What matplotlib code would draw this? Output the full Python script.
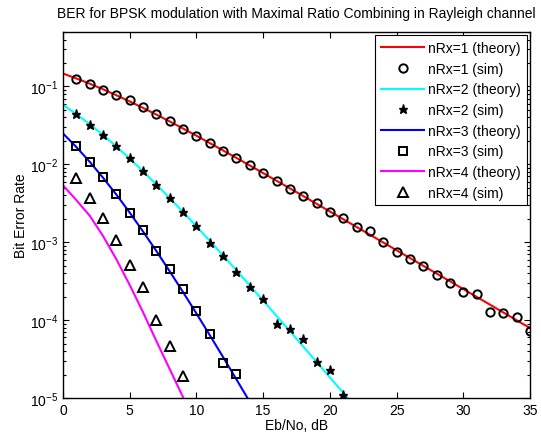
import numpy as np
import matplotlib
matplotlib.use("Agg")
import matplotlib.pyplot as plt

plt.rcParams['font.family'] = ['Liberation Sans', 'DejaVu Sans']
plt.rcParams['mathtext.default'] = 'regular'

# Eb/No axis (dB)
ebno_theory1 = np.arange(0, 36)
ebno_theory2 = np.arange(0, 23)
ebno_theory3 = np.arange(0, 15)
ebno_theory4 = np.arange(0, 11)

# theory curves
ber_theory1 = [0.1464, 0.1267, 0.1085, 0.0919, 0.0771, 0.0642, 0.0530, 0.0435,
               0.0355, 0.0288, 0.0233, 0.01875, 0.01506, 0.01208, 0.00967, 0.00772,
               0.00616, 0.00492, 0.00392, 0.00312, 0.00248, 0.001974, 0.00157,
               0.001248, 0.000992, 0.000789, 0.000627, 0.000498, 0.000396,
               0.000315, 0.000250, 0.000199, 0.000158, 0.0001253, 0.0000995,
               0.0000791]
ber_theory2 = [0.0581, 0.0441, 0.0328, 0.0238, 0.0169, 0.01183, 0.00813, 0.00551,
               0.00368, 0.00244, 0.00160, 0.00104, 0.000674, 0.000434, 0.000278,
               0.000178, 0.0001135, 0.0000722, 0.0000459, 0.0000291, 0.0000184,
               0.0000117, 0.0000074]
ber_theory3 = [0.0249, 0.01668, 0.01078, 0.00673, 0.00408, 0.00240, 0.00137,
               0.000769, 0.000422, 0.000228, 0.0001216, 0.0000641, 0.0000334,
               0.0000173, 0.0000089]
ber_theory4 = [5.37e-3, 3.47e-3, 2.19e-3, 1.20e-3, 6.03e-4, 2.82e-4, 1.26e-4,
               5.37e-5, 2.34e-5, 1.02e-5, 4.47e-6]

# simulated points
ebno_sim1 = np.arange(1, 36)
ber_sim1 = [0.126, 0.108, 0.0912, 0.0767, 0.0661, 0.0543, 0.0437, 0.0355, 0.0288,
            0.0229, 0.0188, 0.0148, 0.0120, 0.00989, 0.00776, 0.00617, 0.00484,
            0.00398, 0.00316, 0.00248, 0.00204, 0.00158, 0.00138, 0.00102,
            0.000741, 0.000610, 0.000501, 0.000380, 0.000299, 0.000229,
            0.000216, 0.000129, 0.000124, 0.000110, 0.0000733]
ebno_sim2 = np.arange(1, 22)
ber_sim2 = [4.45e-2, 3.22e-2, 2.38e-2, 1.74e-2, 1.19e-2, 8.3e-3, 5.42e-3, 3.75e-3,
            2.43e-3, 1.63e-3, 9.9e-4, 6.6e-4, 4.1e-4, 2.68e-4, 1.84e-4, 8.8e-5,
            7.6e-5, 5.7e-5, 2.9e-5, 2.32e-5, 1.08e-5]
ebno_sim3 = np.arange(1, 14)
ber_sim3 = [1.7e-2, 1.07e-2, 6.85e-3, 4.2e-3, 2.35e-3, 1.43e-3, 7.7e-4, 4.55e-4,
            2.52e-4, 1.3e-4, 6.6e-5, 2.8e-5, 2.05e-5]
ebno_sim4 = np.arange(1, 10)
ber_sim4 = [6.75e-3, 3.72e-3, 2.02e-3, 1.06e-3, 5.15e-4, 2.66e-4, 9.9e-5, 4.6e-5,
            1.93e-5]

fig = plt.figure(figsize=(5.41, 4.39), dpi=100)
ax = fig.add_axes([0.1165, 0.0911, 0.8632, 0.8337])

lw = 1.5
ax.semilogy(ebno_theory1, ber_theory1, color='#ff0000', lw=lw, label='nRx=1 (theory)')
ax.semilogy(ebno_sim1, ber_sim1, 'o', mfc='none', mec='k', ms=6, mew=1.4, label='nRx=1 (sim)')
ax.semilogy(ebno_theory2, ber_theory2, color='#00ffff', lw=lw, label='nRx=2 (theory)')
ax.semilogy(ebno_sim2, ber_sim2, '*', color='k', ms=6.5, mew=1.0, label='nRx=2 (sim)')
ax.semilogy(ebno_theory3, ber_theory3, color='#0000ff', lw=lw, label='nRx=3 (theory)')
ax.semilogy(ebno_sim3, ber_sim3, 's', mfc='none', mec='k', ms=6, mew=1.4, label='nRx=3 (sim)')
ax.semilogy(ebno_theory4, ber_theory4, color='#ff00ff', lw=lw, label='nRx=4 (theory)')
ax.semilogy(ebno_sim4, ber_sim4, '^', mfc='none', mec='k', ms=7, mew=1.4, label='nRx=4 (sim)')

ax.set_xlim(0, 35)
ax.set_ylim(1e-5, 0.5)
ax.set_xticks(range(0, 36, 5))
ax.tick_params(which='both', direction='in', top=True, right=True, labelsize=10)
ax.tick_params(which='major', length=4, width=0.8)
ax.tick_params(which='minor', length=2.5, width=0.8)
for s in ax.spines.values():
    s.set_linewidth(1.0)

ax.set_xlabel('Eb/No, dB', fontsize=10, labelpad=1)
ax.set_ylabel('Bit Error Rate', fontsize=10, labelpad=1)
ax.set_title('BER for BPSK modulation with Maximal Ratio Combining in Rayleigh channel',
             fontsize=10, pad=11)

leg = ax.legend(loc='upper right', fontsize=10, fancybox=False, framealpha=1,
                edgecolor='k', handlelength=3.1, handletextpad=0.3,
                labelspacing=0.48, borderaxespad=0.25, borderpad=0.4)
leg.get_frame().set_linewidth(0.8)

plt.savefig("out.png", dpi=100)
